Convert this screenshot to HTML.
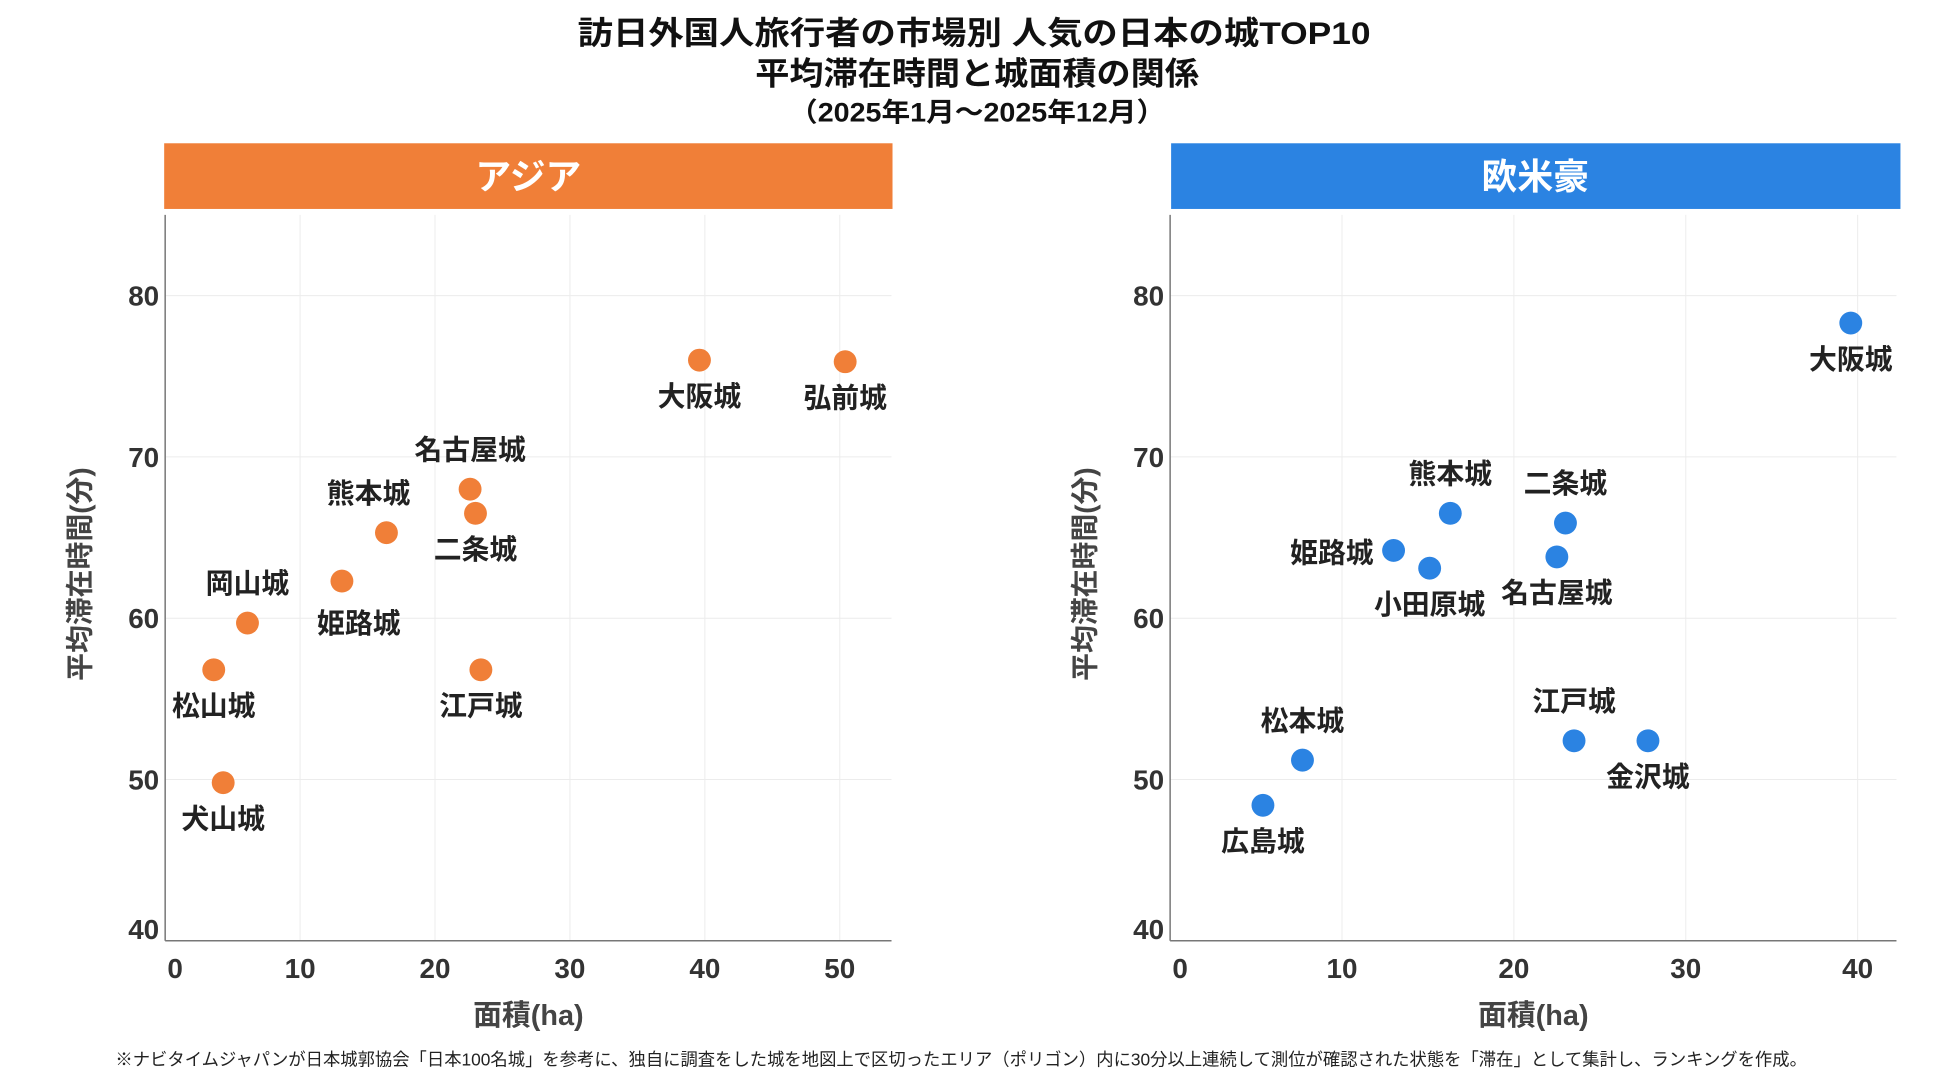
<!DOCTYPE html>
<html><head><meta charset="utf-8">
<style>
html,body{margin:0;padding:0;background:#fff;}
svg{display:block;font-family:"Liberation Sans","Noto Sans CJK JP",sans-serif;}
</style></head>
<body>
<svg id="chart" width="1949" height="1083" viewBox="0 0 1949 1083">
<g transform="scale(0.995)">
<text x="979" y="44" text-anchor="middle" font-size="32" font-weight="bold" fill="#111" textLength="797" lengthAdjust="spacingAndGlyphs">訪日外国人旅行者の市場別 人気の日本の城TOP10</text>
<text x="982" y="85" text-anchor="middle" font-size="32" font-weight="bold" fill="#111" textLength="446" lengthAdjust="spacingAndGlyphs">平均滞在時間と城面積の関係</text>
<text x="982" y="122" text-anchor="middle" font-size="27" font-weight="bold" fill="#111" textLength="378" lengthAdjust="spacingAndGlyphs">（2025年1月～2025年12月）</text>
<rect x="165" y="144" width="732" height="66" fill="#F07F38"/>
<text x="531" y="190" text-anchor="middle" font-size="36" font-weight="bold" fill="#fff">アジア</text>
<rect x="1177" y="144" width="733" height="66" fill="#2B83E2"/>
<text x="1543" y="190" text-anchor="middle" font-size="36" font-weight="bold" fill="#fff">欧米豪</text>
<text x="116" y="1071" font-size="17.5" fill="#222" textLength="1700" lengthAdjust="spacingAndGlyphs">※ナビタイムジャパンが日本城郭協会「日本100名城」を参考に、独自に調査をした城を地図上で区切ったエリア（ポリゴン）内に30分以上連続して測位が確認された状態を「滞在」として集計し、ランキングを作成。</text>
<g id="p1"></g><g id="p2"></g>
</g>
</svg>
<script>
const asiaNames = ["大阪城","弘前城","名古屋城","二条城","熊本城","姫路城","岡山城","松山城","江戸城","犬山城"];
const asiaArea = [39.6,50.4,22.6,23.0,16.4,13.1,6.1,3.6,23.4,4.3];
const asiaStay = [76.0,75.9,68.0,66.5,65.3,62.3,59.7,56.8,56.8,49.8];
const asiaLabelPos = ["below","below","above","below","above-left","below-right","above","below","below","below"];
const westNames = ["大阪城","熊本城","二条城","名古屋城","姫路城","小田原城","江戸城","金沢城","松本城","広島城"];
const westArea = [39.6,16.3,23.0,22.5,13.0,15.1,23.5,27.8,7.7,5.4];
const westStay = [78.3,66.5,65.9,63.8,64.2,63.1,52.4,52.4,51.2,48.4];
const westLabelPos = ["below","above","above","below","left","below","above","below","above","below"];
const asiaXTicks = [0,10,20,30,40,50];
const westXTicks = [0,10,20,30,40];
const yTicks = [40,50,60,70,80];

const NS="http://www.w3.org/2000/svg";
function mk(tag, attrs, parent){const e=document.createElementNS(NS,tag);for(const k in attrs)e.setAttribute(k,attrs[k]);parent.appendChild(e);return e;}

function panel(gid, cfg){
  const g=document.getElementById(gid);
  const xs=v=>cfg.x0+v*(cfg.x1-cfg.x0)/cfg.xmax;
  const ys=v=>945.5-(v-40)*16.21;
  cfg.xticks.forEach(t=>{ if(t===0) return;
    const l=mk('line',{x1:xs(t),x2:xs(t),y1:216,y2:945.5,stroke:'#ececec','stroke-width':1},g);
    
    
  });
  yTicks.forEach(t=>{ if(t===40) return;
    const l=mk('line',{x1:cfg.x0,x2:cfg.xend,y1:ys(t),y2:ys(t),stroke:'#ececec','stroke-width':1},g);
    
    
  });
  const ax=mk('line',{x1:cfg.x0,x2:cfg.x0,y1:216,y2:945.5,stroke:'#777','stroke-width':1.5},g);
  
  
  const bx=mk('line',{x1:cfg.x0,x2:cfg.xend,y1:945.5,y2:945.5,stroke:'#777','stroke-width':1.5},g);
  
  
  cfg.xticks.forEach(t=>{
    const tx=mk('text',{x:xs(t)+(t===0?10:0),y:983,'text-anchor':'middle','font-size':28,'font-weight':'bold',fill:'#333'},g);
    tx.textContent=t;
    
    
  });
  yTicks.forEach(t=>{
    const tx=mk('text',{x:cfg.x0-6,y:(t===40?ys(t)-12:ys(t))+10,'text-anchor':'end','font-size':28,'font-weight':'bold',fill:'#333'},g);
    tx.textContent=t;
    
    
  });
  const xt=mk('text',{x:(cfg.x0+cfg.xend)/2,y:1030,'text-anchor':'middle','font-size':29,'font-weight':'bold',fill:'#444'},g);
  xt.textContent='面積(ha)';
  
  
  const yt=mk('text',{x:0,y:0,'text-anchor':'middle','font-size':28,'font-weight':'bold',fill:'#444',transform:`translate(${cfg.x0-76},577) rotate(-90)`},g);
  yt.textContent='平均滞在時間(分)';
  
  
  cfg.names.forEach((n,i)=>{
    const cx=xs(cfg.area[i]), cy=ys(cfg.stay[i]);
    const c=mk('circle',{cx:cx,cy:cy,r:11.5,fill:cfg.color},g);
    
    
    let lx=cx, ly=cy, anchor='middle';
    const p=cfg.pos[i];
    if(p==='below'){ly=cy+46;}
    else if(p==='above'){ly=cy-30;}
    else if(p==='above-left'){ly=cy-30;lx=cx-18;}
    else if(p==='below-right'){ly=cy+52;lx=cx+17;}
    else if(p==='left'){ly=cy+12;lx=cx-20;anchor='end';}
    const t=mk('text',{x:lx,y:ly,'text-anchor':anchor,'font-size':28,'font-weight':'bold',fill:'#222'},g);
    t.textContent=n;
    
    
  });
}
panel('p1',{x0:166,x1:844,xmax:50,xend:896,xticks:asiaXTicks,names:asiaNames,area:asiaArea,stay:asiaStay,pos:asiaLabelPos,color:'#F07F38'});
panel('p2',{x0:1176,x1:1867,xmax:40,xend:1906,xticks:westXTicks,names:westNames,area:westArea,stay:westStay,pos:westLabelPos,color:'#2B83E2'});
</script>
</body></html>
